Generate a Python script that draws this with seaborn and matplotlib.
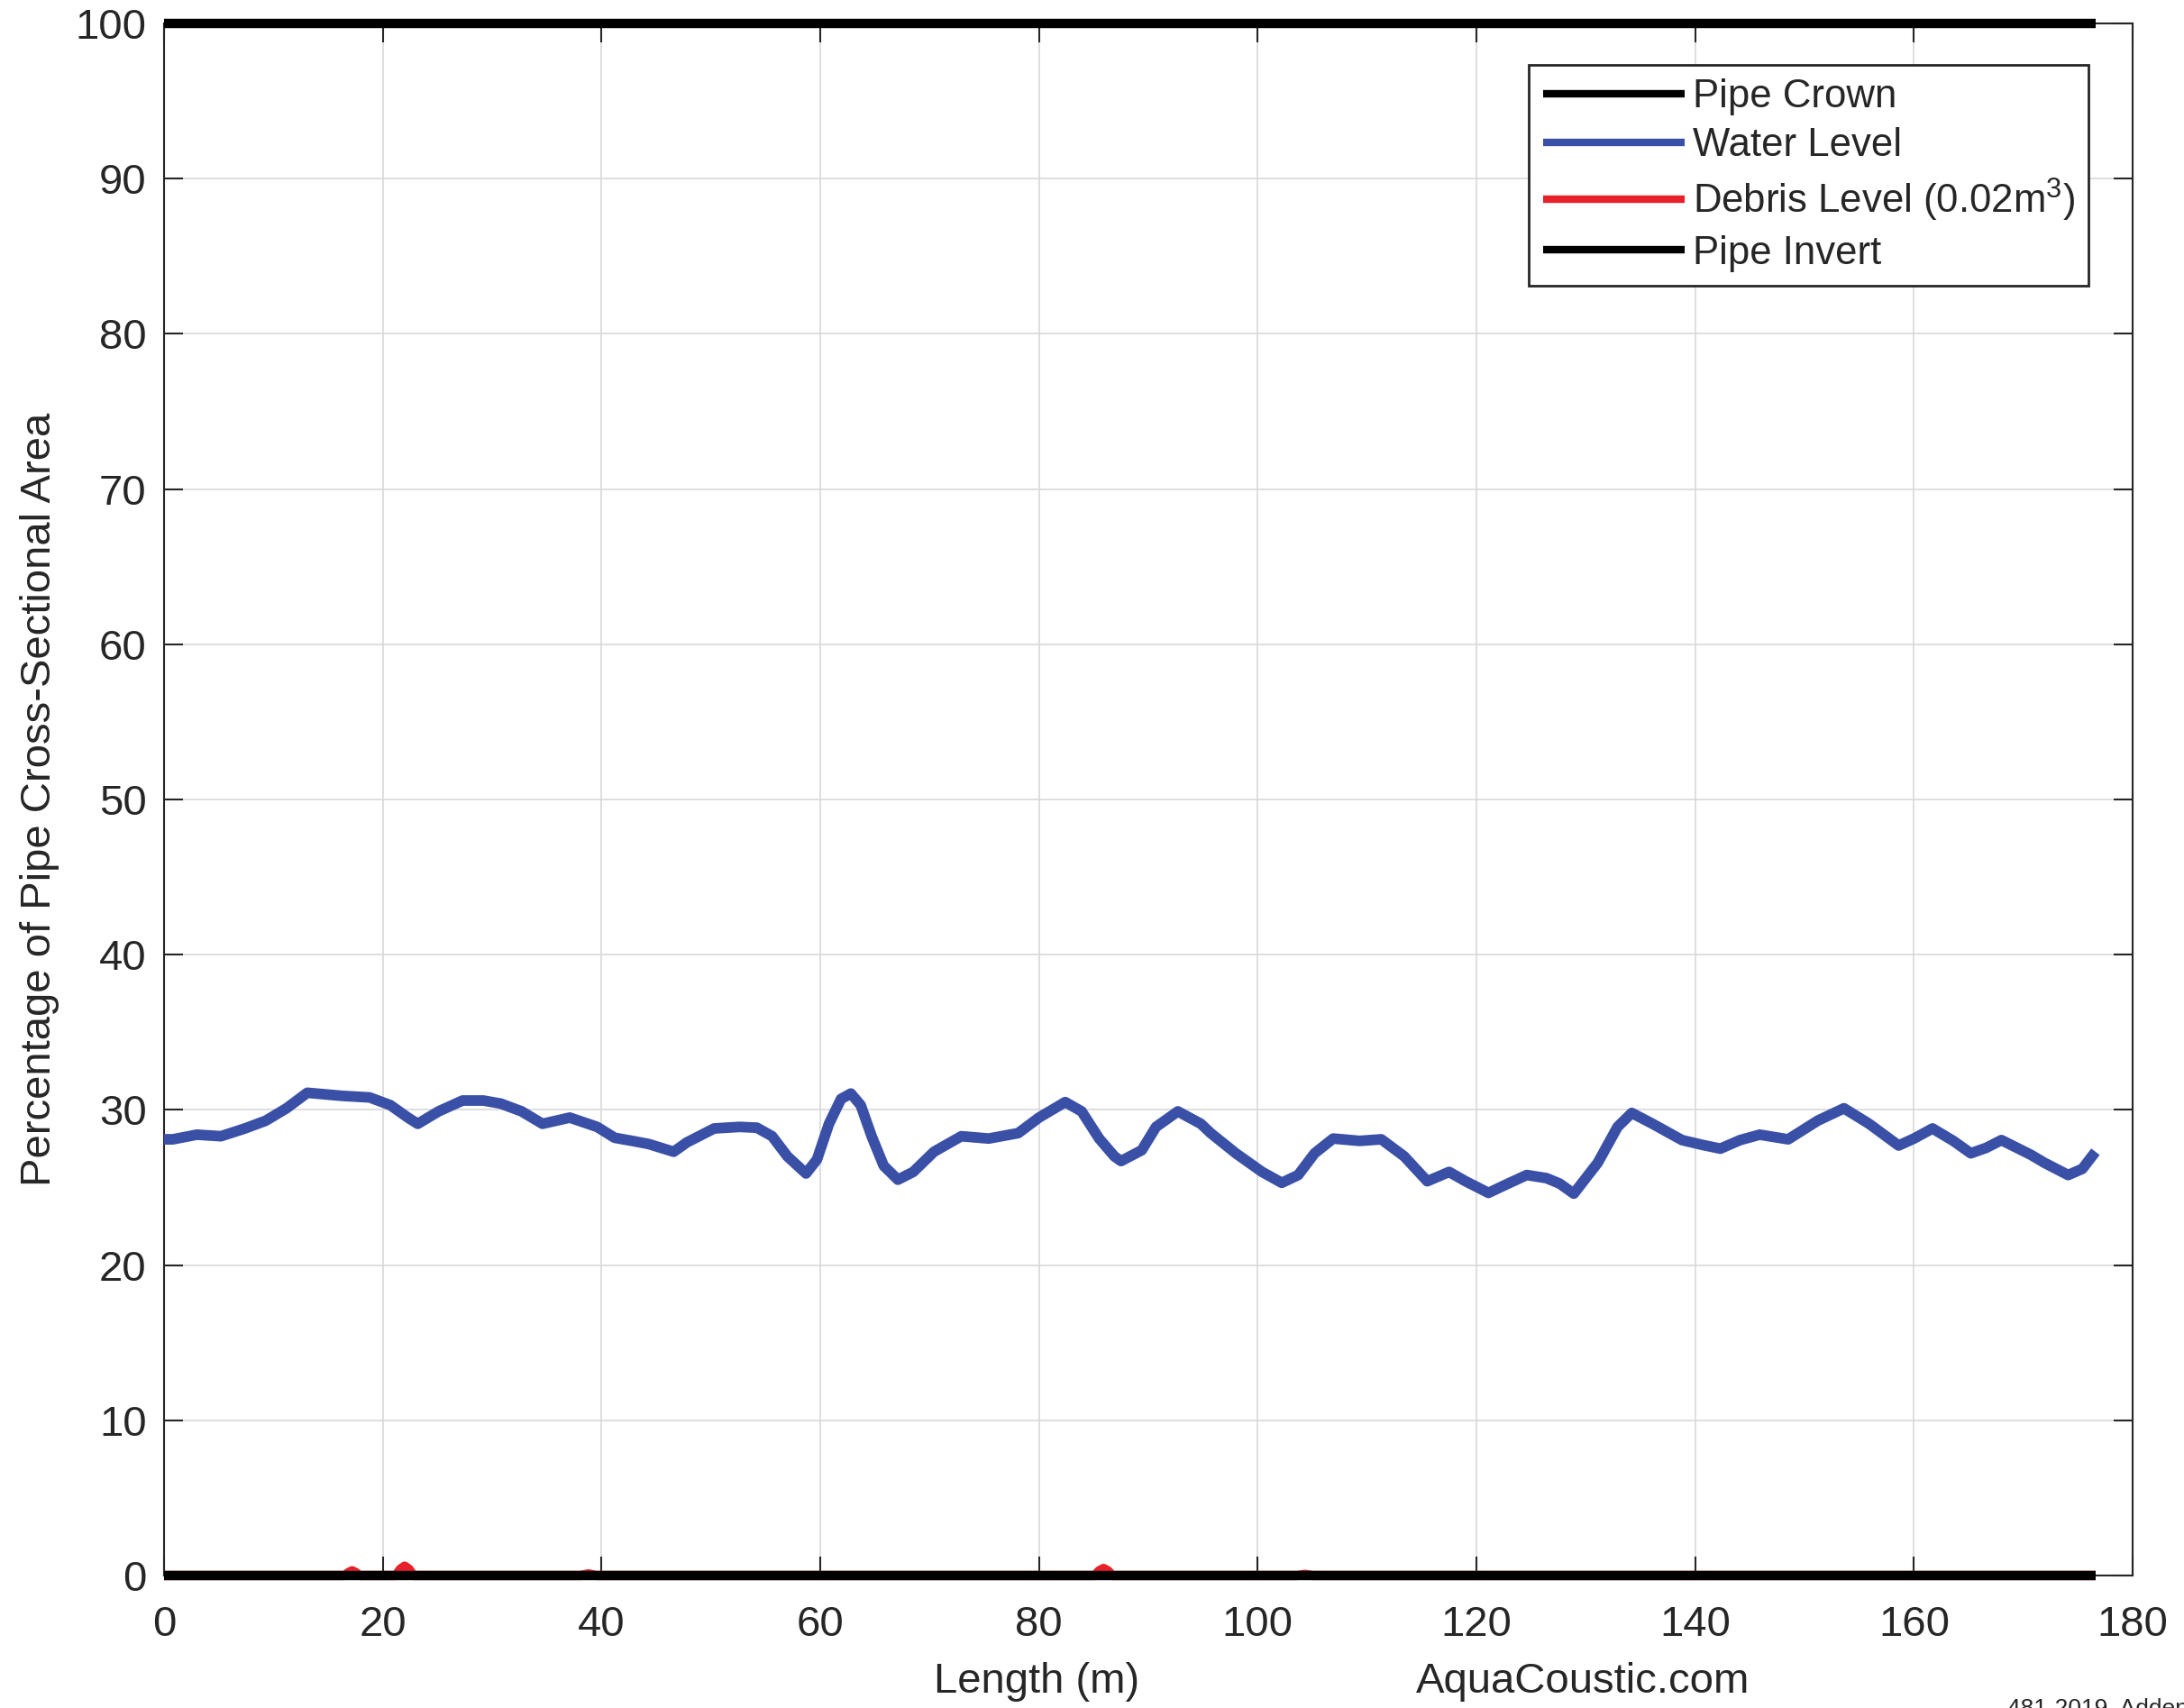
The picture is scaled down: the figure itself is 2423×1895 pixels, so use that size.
import numpy as np
import pandas as pd
import matplotlib
matplotlib.use("Agg")
import matplotlib.pyplot as plt
import seaborn as sns

# water level along the pipe
length_m = [0.0, 0.8, 3.0, 5.2, 7.4, 9.3, 11.2, 13.1, 16.3, 18.8, 20.7, 22.3,
            23.2, 25.1, 27.3, 29.2, 30.8, 32.7, 34.6, 37.1, 39.6, 41.2, 42.8,
            44.3, 46.6, 47.8, 50.3, 52.6, 54.2, 55.6, 57.0, 58.7, 59.7, 60.8,
            61.9, 62.8, 63.7, 64.7, 65.8, 67.1, 68.5, 70.4, 72.9, 75.4, 78.1,
            80.0, 82.4, 83.9, 85.5, 86.9, 87.5, 89.4, 90.7, 92.7, 94.8, 95.7,
            98.0, 100.4, 102.2, 103.7, 105.2, 106.9, 109.3, 111.3, 113.4,
            115.5, 117.5, 119.0, 121.1, 122.9, 124.6, 126.4, 127.6, 128.9,
            131.1, 132.9, 134.2, 136.1, 138.8, 140.6, 142.3, 144.1, 145.9,
            148.5, 151.2, 153.6, 155.9, 158.6, 160.0, 161.7, 163.6, 165.2,
            166.6, 168.0, 170.7, 171.9, 174.1, 175.4, 176.6]
water_pct = [28.1, 28.1, 28.4, 28.3, 28.8, 29.3, 30.1, 31.1, 30.9, 30.8, 30.3, 29.5,
             29.1, 29.9, 30.6, 30.6, 30.4, 29.9, 29.1, 29.5, 28.9, 28.2, 28.0,
             27.8, 27.3, 27.9, 28.8, 28.9, 28.85, 28.3, 27.0, 25.9, 26.8, 29.1,
             30.7, 31.05, 30.3, 28.3, 26.4, 25.5, 26.0, 27.3, 28.3, 28.15, 28.5,
             29.5, 30.5, 29.9, 28.15, 27.0, 26.7, 27.4, 28.9, 29.9, 29.1, 28.5,
             27.2, 26.0, 25.3, 25.8, 27.2, 28.15, 28.0, 28.1, 27.0,
             25.4, 26.0, 25.4, 24.65, 25.25, 25.8, 25.6, 25.25, 24.6,
             26.6, 28.9, 29.8, 29.1, 28.05, 27.75, 27.5, 28.05, 28.4,
             28.1, 29.3, 30.1, 29.1, 27.7, 28.15, 28.8, 28.0, 27.2,
             27.55, 28.05, 27.1, 26.6, 25.8, 26.2, 27.3]

# debris level (small bumps at the invert)
debris_x = [0.0, 16.5, 16.9, 17.2, 17.5, 17.9, 21.2, 21.6, 22.0, 22.4, 22.8,
            38.1, 38.8, 39.5, 85.1, 85.5, 85.9, 86.3, 86.7,
            103.6, 104.3, 105.0, 176.6]
debris_pct = [0.0, 0.0, 0.2, 0.3, 0.2, 0.0, 0.0, 0.4, 0.6, 0.4, 0.0,
              0.0, 0.1, 0.0, 0.0, 0.3, 0.45, 0.3, 0.0,
              0.0, 0.07, 0.0, 0.0]

pipe_x = [0.0, 176.6]
crown_pct = [100, 100]
invert_pct = [0, 0]

series_labels = ['Pipe Crown', 'Water Level', 'Debris Level (0.02m$^3$)', 'Pipe Invert']
series_colors = ['black', '#3a50a6', '#e8202a', 'black']
series_widths = [7.5, 8.5, 7.5, 7.5]

sns.set_style('whitegrid')
plt.rcParams['font.family'] = ['Liberation Sans', 'DejaVu Sans']
plt.rcParams['mathtext.fontset'] = 'custom'
plt.rcParams['mathtext.rm'] = 'Liberation Sans'
plt.rcParams['mathtext.it'] = 'Liberation Sans:italic'
plt.rcParams['mathtext.default'] = 'regular'

fig = plt.figure(figsize=(24.23, 18.95), dpi=100)
ax = fig.add_axes([0.0751, 0.0776, 0.9014, 0.9087])

df_crown = pd.DataFrame({'x': pipe_x, 'y': crown_pct})
df_water = pd.DataFrame({'x': length_m, 'y': water_pct})
df_debris = pd.DataFrame({'x': debris_x, 'y': debris_pct})
df_invert = pd.DataFrame({'x': pipe_x, 'y': invert_pct})

for df, lab, col, w in zip([df_crown, df_water, df_debris, df_invert],
                           series_labels, series_colors, series_widths):
    sns.lineplot(data=df, x='x', y='y', color=col, linewidth=w, label=lab,
                 ax=ax, clip_on=False, solid_capstyle='butt',
                 solid_joinstyle='round', zorder=3)

ax.set_xlim(0, 180)
ax.set_ylim(0, 100)
ax.set_xticks(np.arange(0, 181, 20))
ax.set_yticks(np.arange(0, 101, 10))

ax.grid(True, color='#d8d8d8', linewidth=1.2)
for sp in ax.spines.values():
    sp.set_visible(True)
    sp.set_color('#262626')
    sp.set_linewidth(1.5)
    sp.set_zorder(2)

ax.tick_params(axis='both', which='major', direction='in', length=15, width=1.5,
               color='#262626', labelcolor='#262626', labelsize=34,
               top=True, right=True, bottom=True, left=True)
ax.tick_params(axis='x', pad=24)
ax.tick_params(axis='y', pad=14)

ax.set_xlabel('')
ax.set_ylabel('Percentage of Pipe Cross-Sectional Area', fontsize=34, color='#262626')
ax.yaxis.set_label_coords(-0.053, 0.5)

fig.text(0.4745, 0.009, 'Length (m)', fontsize=34, color='#262626',
         ha='center', va='baseline')
fig.text(0.7247, 0.009, 'AquaCoustic.com', fontsize=34, color='#262626',
         ha='center', va='baseline')
fig.text(0.919, 0.006, '481-2019, Addendum', fontsize=19, color='#262626',
         ha='left', va='top')

leg = ax.legend(loc='upper right', bbox_to_anchor=(0.9776, 0.9733),
                borderaxespad=0, fontsize=31.5, handlelength=3.6,
                handletextpad=0.2, labelspacing=0.3, borderpad=0.35,
                frameon=True, fancybox=False, framealpha=1,
                edgecolor='#262626')
leg.get_frame().set_linewidth(2)
for h in leg.get_lines():
    h.set_linewidth(6)

fig.savefig('out.png', dpi=100)
